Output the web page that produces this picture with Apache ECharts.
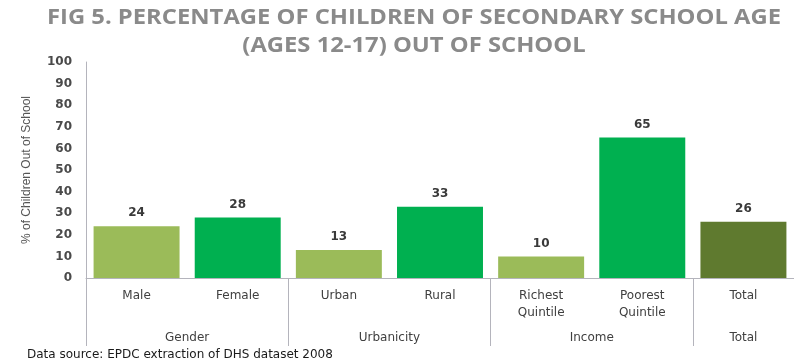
<!DOCTYPE html>
<html>
<head>
<meta charset="utf-8">
<script src="https://cdn.jsdelivr.net/npm/echarts@6/dist/echarts.min.js"></script>
<style>html,body{margin:0;padding:0;background:#fff;}#c{width:794px;height:361px;}</style>
</head>
<body>
<div id="c"></div>
<script>
var categories = ['Male', 'Female', 'Urban', 'Rural', 'Richest\nQuintile', 'Poorest\nQuintile', 'Total'];
var values = [24, 28, 13, 33, 10, 65, 26];
var barColors = ['#9bbb59', '#00b050', '#9bbb59', '#00b050', '#9bbb59', '#00b050', '#5f7a2f'];
var groups = ['Gender', 'Urbanicity', 'Income', 'Total'];
var groupSizes = [2, 2, 2, 1];
var yTicks = [0, 10, 20, 30, 40, 50, 60, 70, 80, 90, 100];
var titleLines = ['FIG 5. PERCENTAGE OF CHILDREN OF SECONDARY SCHOOL AGE', '(AGES 12-17) OUT OF SCHOOL'];
var yAxisTitle = '% of Children Out of School';
var sourceText = 'Data source: EPDC extraction of DHS dataset 2008';

var groupBounds = [0], groupCenters = [];
(function(){
  var acc = 0;
  for (var i = 0; i < groupSizes.length; i++) {
    groupCenters.push(acc + groupSizes[i] / 2);
    acc += groupSizes[i];
    groupBounds.push(acc);
  }
})();

var chart = echarts.init(document.getElementById('c'));
var txt = '#404040';
var axisCol = '#b4b4bc';
chart.setOption({
  animation: false,
  grid: { left: 86, right: -6, top: 62, bottom: 83 },
  graphic: [
    { type: 'text', x: 414, y: 18, scaleX: 1.16, style: { text: titleLines[0], font: 'bold 20.5px "Open Sans"', fill: '#8a8a8a', textAlign: 'center', textVerticalAlign: 'middle' } },
    { type: 'text', x: 414, y: 46, scaleX: 1.16, style: { text: titleLines[1], font: 'bold 20.5px "Open Sans"', fill: '#8a8a8a', textAlign: 'center', textVerticalAlign: 'middle' } },
    { type: 'text', x: 27, y: 355, style: { text: sourceText, font: '12px "DejaVu Sans"', fill: '#1a1a1a', textAlign: 'left', textVerticalAlign: 'middle' } }
  ],
  xAxis: [
    {
      type: 'category', data: categories,
      axisLine: { show: true, lineStyle: { color: axisCol, width: 1 } },
      axisTick: { show: false },
      axisLabel: { interval: 0, margin: 9, color: txt, fontFamily: 'DejaVu Sans', fontSize: 12, lineHeight: 17 }
    },
    {
      type: 'value', min: 0, max: groupBounds[groupBounds.length - 1], position: 'bottom', offset: 0,
      axisLine: { show: false },
      splitLine: { show: false },
      axisTick: { show: true, length: 68, customValues: groupBounds.slice(0, groupBounds.length - 1), lineStyle: { color: axisCol, width: 1 } },
      axisLabel: {
        show: true, margin: 54, customValues: groupCenters, color: txt, fontFamily: 'DejaVu Sans', fontSize: 12,
        formatter: function (v) { for (var i = 0; i < groupCenters.length; i++) { if (Math.abs(groupCenters[i] - v) < 1e-6) return groups[i]; } return ''; }
      }
    }
  ],
  yAxis: {
    type: 'value', min: yTicks[0], max: yTicks[yTicks.length - 1], interval: 10,
    name: yAxisTitle, nameLocation: 'middle', nameGap: 53, nameRotate: 90,
    nameTextStyle: { fontFamily: 'Liberation Sans', fontSize: 12, color: '#555' },
    axisLine: { show: true, lineStyle: { color: axisCol, width: 1 } },
    axisTick: { show: false },
    splitLine: { show: false },
    axisLabel: { margin: 14, color: '#4a4a4a', fontFamily: 'DejaVu Sans', fontSize: 12, fontWeight: 'bold' }
  },
  series: [{
    type: 'bar', xAxisIndex: 0,
    barCategoryGap: '15%',
    data: values.map(function (v, i) { return { value: v, itemStyle: { color: barColors[i] } }; }),
    label: { show: true, position: 'top', distance: 7, color: '#3a3a3a', fontFamily: 'DejaVu Sans', fontSize: 12, fontWeight: 'bold' }
  }]
});
</script>
</body>
</html>
